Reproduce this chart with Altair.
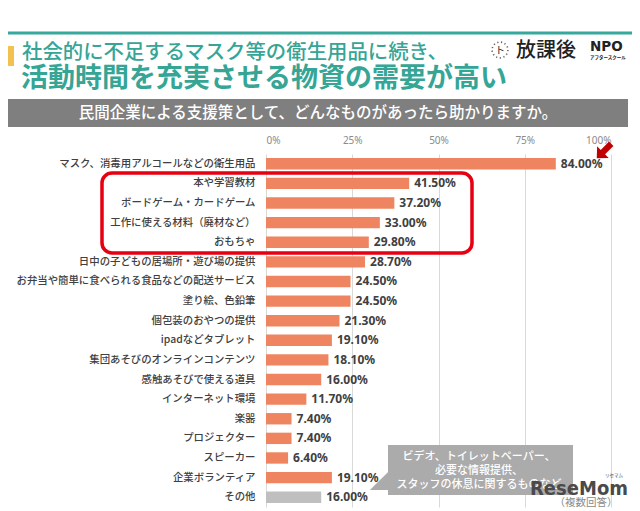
import altair as alt
import pandas as pd

categories = [
    "マスク、消毒用アルコールなどの衛生用品",
    "本や学習教材",
    "ボードゲーム・カードゲーム",
    "工作に使える材料（廃材など）",
    "おもちゃ",
    "日中の子どもの居場所・遊び場の提供",
    "お弁当や簡単に食べられる食品などの配送サービス",
    "塗り絵、色鉛筆",
    "個包装のおやつの提供",
    "ipadなどタブレット",
    "集団あそびのオンラインコンテンツ",
    "感触あそびで使える道具",
    "インターネット環境",
    "楽器",
    "プロジェクター",
    "スピーカー",
    "企業ボランティア",
    "その他",
]
values = [84.0, 41.5, 37.2, 33.0, 29.8, 28.7, 24.5, 24.5, 21.3, 19.1, 18.1, 16.0, 11.7, 7.4, 7.4, 6.4, 19.1, 16.0]
groups = ["main"] * 17 + ["other"]
x_ticks = [0, 25, 50, 75, 100]

title1 = "社会的に不足するマスク等の衛生用品に続き、"
title2 = "活動時間を充実させる物資の需要が高い"
question = "民間企業による支援策として、どんなものがあったら助かりますか。"
callout_lines = ["ビデオ、トイレットペーパー、", "必要な情報提供、", "スタッフの休息に関するものなど"]
note = "（複数回答）"

df = pd.DataFrame({"cat": categories, "val": values, "grp": groups})
df["label"] = [f"{v:.2f}%" for v in values]

FONT = "Noto Sans CJK JP"
W, H = 345, 353
OX, OY = 266, 154  # page position of plot origin


def px(x):
    return x - OX


def py(y):
    return y - OY


y_enc = alt.Y("cat:N", sort=categories, title=None,
              scale=alt.Scale(paddingInner=0.42, paddingOuter=0.21),
              axis=alt.Axis(labelFont=FONT, labelFontSize=10.4, labelColor="#404040",
                            labelFontWeight=500, labelLimit=400, labelPadding=11,
                            ticks=False, domain=False, grid=False))
x_enc = alt.X("val:Q", title=None,
              scale=alt.Scale(domain=[0, 100], nice=False),
              axis=alt.Axis(orient="top", values=x_ticks, labelExpr="datum.value + '%'",
                            labelFont="Noto Sans", labelFontSize=10, labelColor="#8a8a8a",
                            labelPadding=9, ticks=False, domain=False,
                            grid=True, gridColor="#d9d9d9", gridWidth=1))

base = alt.Chart(df)
bars = base.mark_bar().encode(
    x=x_enc, y=y_enc,
    color=alt.Color("grp:N", legend=None,
                    scale=alt.Scale(domain=["main", "other"], range=["#EE8560", "#BFBFBF"])),
)
labels = base.mark_text(align="left", baseline="middle", dx=5, font="Noto Sans",
                        fontSize=12, fontWeight="bold", color="#404040").encode(
    x="val:Q", y=alt.Y("cat:N", sort=categories), text="label:N")

one = alt.Data(values=[{"a": 1}])


def deco():
    return alt.Chart(one)


teal_line = deco().mark_rule(color="#36A89C", strokeWidth=3).encode(
    x=alt.value(px(8)), x2=alt.value(px(640)), y=alt.value(py(33)))
yellow = deco().mark_rect(color="#F3C14E").encode(
    x=alt.value(px(8)), x2=alt.value(px(14)), y=alt.value(py(46)), y2=alt.value(py(66)))
t1 = deco().mark_text(align="left", baseline="middle", font=FONT, fontSize=20.4,
                      fontWeight=500, color="#35A596").encode(
    x=alt.value(px(22)), y=alt.value(py(53)), text=alt.value(title1))
t2 = deco().mark_text(align="left", baseline="middle", font=FONT, fontSize=27,
                      fontWeight="bold", color="#35A596").encode(
    x=alt.value(px(21)), y=alt.value(py(79)), text=alt.value(title2))
banner = deco().mark_rect(color="#7F7F7F").encode(
    x=alt.value(px(8)), x2=alt.value(px(628)), y=alt.value(py(99)), y2=alt.value(py(127)))
banner_t = deco().mark_text(align="center", baseline="middle", font=FONT, fontSize=15.5,
                            fontWeight=500, color="white").encode(
    x=alt.value(px(318)), y=alt.value(py(113)), text=alt.value(question))

# logo
clock = deco().mark_point(shape="circle", filled=False, size=250, color="#222",
                          strokeWidth=1.6, strokeDash=[1.2, 2.6]).encode(
    x=alt.value(px(500)), y=alt.value(py(50)))
clock_h = deco().mark_text(align="center", baseline="middle", font=FONT, fontSize=10,
                           color="#222").encode(
    x=alt.value(px(500)), y=alt.value(py(51)), text=alt.value("ト"))
logo1 = deco().mark_text(align="left", baseline="middle", font=FONT, fontSize=20,
                         fontWeight=500, color="#222").encode(
    x=alt.value(px(516)), y=alt.value(py(51)), text=alt.value("放課後"))
logo2 = deco().mark_text(align="left", baseline="middle", font="DejaVu Sans", fontSize=13.5,
                         fontWeight="bold", color="#222").encode(
    x=alt.value(px(590)), y=alt.value(py(47)), text=alt.value("NPO"))
logo3 = deco().mark_text(align="left", baseline="middle", font=FONT, fontSize=4.5,
                         fontWeight="bold", color="#222").encode(
    x=alt.value(px(590)), y=alt.value(py(58)), text=alt.value("アフタースクール"))

# highlight box and arrow
red_box = deco().mark_rect(filled=False, stroke="#E60012", strokeWidth=3.5,
                           cornerRadius=10).encode(
    x=alt.value(px(102)), x2=alt.value(px(472)), y=alt.value(py(173)), y2=alt.value(py(253)))
arrow_path = "M -1 -0.3 L 0.15 -0.3 L 0.15 -0.8 L 1 0 L 0.15 0.8 L 0.15 0.3 L -1 0.3 Z"
arrow = deco().mark_point(shape=arrow_path, filled=True, size=420, color="#C00000",
                          angle=135, opacity=1).encode(
    x=alt.value(px(604)), y=alt.value(py(151)))

# callout
callout = deco().mark_rect(color="#ABABAB").encode(
    x=alt.value(px(388)), x2=alt.value(px(573)), y=alt.value(py(445)), y2=alt.value(py(495)))
tail = deco().mark_point(shape="M 1 -1 L 1 1 L -1 1 Z", filled=True, size=330,
                         color="#ABABAB", opacity=1).encode(
    x=alt.value(px(379)), y=alt.value(py(481)))
callout_t = [
    deco().mark_text(align="center", baseline="middle", font=FONT, fontSize=11,
                     fontWeight=500, color="white").encode(
        x=alt.value(px(479)), y=alt.value(py(457 + 14 * i)), text=alt.value(s))
    for i, s in enumerate(callout_lines)
]

mark1 = deco().mark_text(align="left", baseline="alphabetic", font="DejaVu Sans Condensed",
                         fontSize=20, fontWeight="bold", color="#4a4a4a").encode(
    x=alt.value(px(530)), y=alt.value(py(495)), text=alt.value("ReseMom"))
mark2 = deco().mark_text(align="center", baseline="middle", font=FONT, fontSize=4.5,
                         color="#4a4a4a").encode(
    x=alt.value(px(614)), y=alt.value(py(476)), text=alt.value("リセマム"))
note_t = deco().mark_text(align="center", baseline="middle", font=FONT, fontSize=10.5,
                          color="#8a8a8a").encode(
    x=alt.value(px(586)), y=alt.value(py(503)), text=alt.value(note))

chart = alt.layer(
    bars, labels, teal_line, yellow, t1, t2, banner, banner_t,
    clock, clock_h, logo1, logo2, logo3, red_box, arrow,
    callout, tail, *callout_t, mark1, mark2, note_t,
).properties(
    width=W, height=H,
    autosize="none",
    padding={"left": OX - 8, "top": OY - 8, "right": 624 - (OX - 8) - W, "bottom": 3},
    background="white",
).configure_view(stroke=None)

chart.save("out.html", embed_options={"renderer": "svg", "actions": False})
